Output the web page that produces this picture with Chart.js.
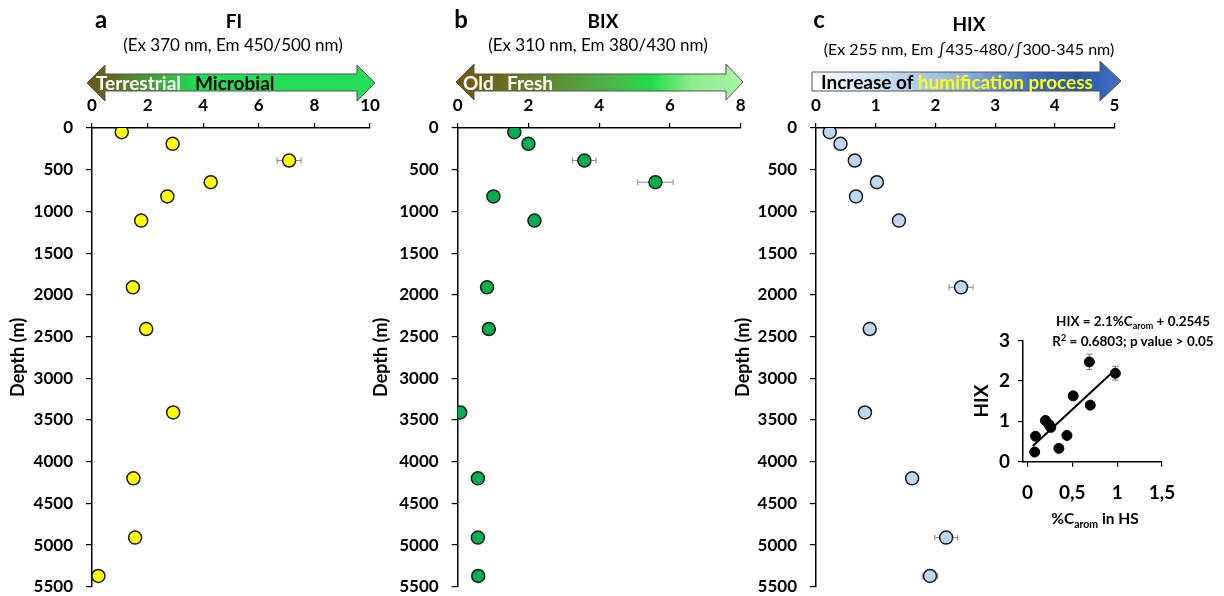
<!DOCTYPE html>
<html>
<head>
<meta charset="utf-8">
<script src="https://cdn.jsdelivr.net/npm/chart.js@4.4.1/dist/chart.umd.min.js"></script>
<style>
  body { margin: 0; background: #fff; width: 1224px; height: 596px; overflow: hidden; font-family: Lato, sans-serif; }
  canvas { position: absolute; top: 0; }
  #overlay { position: absolute; left: 0; top: 0; pointer-events: none; }
</style>
</head>
<body>
<canvas id="chartA" style="left:0px" width="400" height="610"></canvas>
<canvas id="chartB" style="left:370px" width="400" height="610"></canvas>
<canvas id="chartC" style="left:732px" width="492" height="610"></canvas>
<canvas id="chartInset" style="left:970px; top:300px" width="224" height="240"></canvas>

<svg id="overlay" width="1224" height="596" font-family="Lato" font-weight="bold">
  <defs>
    <linearGradient id="gradA" gradientUnits="userSpaceOnUse" x1="87" y1="0" x2="375" y2="0">
      <stop offset="0" stop-color="#6b5416"/>
      <stop offset="0.1" stop-color="#5f6f22"/>
      <stop offset="0.28" stop-color="#36b444"/>
      <stop offset="0.38" stop-color="#22dd55"/>
      <stop offset="1" stop-color="#22dd55"/>
    </linearGradient>
    <linearGradient id="gradB" gradientUnits="userSpaceOnUse" x1="456" y1="0" x2="743" y2="0">
      <stop offset="0" stop-color="#7a5208"/>
      <stop offset="0.12" stop-color="#6a661a"/>
      <stop offset="0.35" stop-color="#5e8e34"/>
      <stop offset="0.55" stop-color="#4ab84a"/>
      <stop offset="0.68" stop-color="#22dd4a"/>
      <stop offset="0.82" stop-color="#8cee8c"/>
      <stop offset="1" stop-color="#a6f5a6"/>
    </linearGradient>
    <linearGradient id="gradC" gradientUnits="userSpaceOnUse" x1="812" y1="0" x2="1121" y2="0">
      <stop offset="0" stop-color="#ffffff"/>
      <stop offset="0.28" stop-color="#bdd7ee"/>
      <stop offset="0.5" stop-color="#8ab0df"/>
      <stop offset="0.72" stop-color="#3d6cc0"/>
      <stop offset="0.86" stop-color="#2656a8"/>
      <stop offset="1" stop-color="#4472c4"/>
    </linearGradient>
  </defs>

  <!-- panel titles -->
  <text x="101" y="28" font-size="24" text-anchor="middle">a</text>
  <text x="234" y="28" font-size="19" text-anchor="middle">FI</text>
  <text x="233" y="51" font-size="17" font-weight="normal" text-anchor="middle">(Ex 370 nm, Em 450/500 nm)</text>

  <text x="461" y="28" font-size="24" text-anchor="middle">b</text>
  <text x="603" y="28" font-size="19" text-anchor="middle">BIX</text>
  <text x="598" y="51" font-size="17" font-weight="normal" text-anchor="middle">(Ex 310 nm, Em 380/430 nm)</text>

  <text x="819" y="28" font-size="24" text-anchor="middle">c</text>
  <text x="969" y="31" font-size="19" text-anchor="middle">HIX</text>
  <text x="969" y="55" font-size="16" font-weight="normal" text-anchor="middle">(Ex 255 nm, Em ∫435-480/∫300-345 nm)</text>

  <!-- arrows -->
  <polygon points="87,83 105,65 105,74 357,74 357,65 375,83 357,101 357,91 105,91 105,101" fill="url(#gradA)" stroke="#555" stroke-width="1"/>
  <text x="96" y="90" font-size="19" fill="#fff">Terrestrial</text>
  <text x="195" y="90" font-size="19" fill="#000">Microbial</text>

  <polygon points="456,82 474,64 474,74 726,74 726,64 743,82 726,100 726,91 474,91 474,100" fill="url(#gradB)" stroke="#555" stroke-width="1"/>
  <text x="463" y="90" font-size="19" fill="#fff">Old</text>
  <text x="507" y="90" font-size="19" fill="#fff">Fresh</text>

  <polygon points="812,72 1100,72 1100,61 1121,81 1100,101 1100,91 812,91" fill="url(#gradC)" stroke="#555" stroke-width="1"/>
  <text x="821" y="89" font-size="19"><tspan fill="#000">Increase of </tspan><tspan fill="#ffff00">humification process</tspan></text>

  <!-- inset annotations -->
  <text x="1133" y="326" font-size="13.5" text-anchor="middle">HIX = 2.1%C<tspan font-size="9" dy="3">arom</tspan><tspan dy="-3"> + 0.2545</tspan></text>
  <text x="1133" y="346" font-size="13.5" text-anchor="middle">R<tspan font-size="9" dy="-5">2</tspan><tspan dy="5"> = 0.6803; p value &gt; 0.05</tspan></text>
  <text x="1095" y="524" font-size="15.5" text-anchor="middle">%C<tspan font-size="10.5" dy="4">arom</tspan><tspan dy="-4"> in HS</tspan></text>
</svg>

<script>
// depth of the samples (m)
const depth = [50, 190, 390, 650, 820, 1110, 1910, 2410, 3410, 4200, 4910, 5370];

// FI
const fiValues = [1.07, 2.9, 7.09, 4.27, 2.71, 1.77, 1.47, 1.95, 2.92, 1.49, 1.55, 0.23];
const fiErrors = [0, 0, 0.43, 0, 0, 0, 0, 0, 0, 0, 0, 0];

// BIX
const bixValues = [1.6, 2.0, 3.58, 5.59, 1.01, 2.17, 0.83, 0.88, 0.07, 0.57, 0.57, 0.58];
const bixErrors = [0, 0, 0.33, 0.5, 0, 0, 0, 0, 0, 0, 0, 0];

// HIX
const hixValues = [0.23, 0.41, 0.65, 1.02, 0.67, 1.39, 2.43, 0.9, 0.82, 1.61, 2.18, 1.91];
const hixErrors = [0, 0, 0, 0, 0, 0, 0.2, 0, 0, 0, 0.19, 0.13];

// inset: HIX vs %C arom in HS
const caromValues = [0.08, 0.09, 0.20, 0.24, 0.26, 0.35, 0.44, 0.51, 0.69, 0.70, 0.98];
const hixInset    = [0.24, 0.63, 1.02, 0.92, 0.85, 0.33, 0.65, 1.63, 2.47, 1.40, 2.19];
const hixInsetErr = [0, 0, 0, 0, 0, 0, 0, 0, 0.19, 0, 0.17];
const trendX = [0.06, 0.99];
const trendY = [0.39, 2.30];

// axes
const depthMax = 5500, depthStep = 500;
const insetXTicks = [0, 0.5, 1, 1.5];
const insetYTicks = [0, 1, 2, 3];

const errorBars = {
    id: 'errorBars',
    beforeDatasetsDraw(chart) {
        const ctx = chart.ctx;
        const xs = chart.scales.x, ys = chart.scales.y;
        chart.data.datasets.forEach(ds => {
            if (!ds.errX && !ds.errY) return;
            ctx.save();
            ctx.strokeStyle = ds.errColor || '#8a8a8a';
            ctx.lineWidth = 1;
            ds.data.forEach((p, j) => {
                const ex = ds.errX ? ds.errX[j] : 0;
                const ey = ds.errY ? ds.errY[j] : 0;
                const px = xs.getPixelForValue(p.x), py = ys.getPixelForValue(p.y);
                ctx.beginPath();
                if (ex) {
                    const x1 = xs.getPixelForValue(p.x - ex), x2 = xs.getPixelForValue(p.x + ex);
                    ctx.moveTo(x1, py); ctx.lineTo(x2, py);
                    ctx.moveTo(x1, py - 3); ctx.lineTo(x1, py + 3);
                    ctx.moveTo(x2, py - 3); ctx.lineTo(x2, py + 3);
                }
                if (ey) {
                    const y1 = ys.getPixelForValue(p.y - ey), y2 = ys.getPixelForValue(p.y + ey);
                    ctx.moveTo(px, y1); ctx.lineTo(px, y2);
                    ctx.moveTo(px - 3, y1); ctx.lineTo(px + 3, y1);
                    ctx.moveTo(px - 3, y2); ctx.lineTo(px + 3, y2);
                }
                ctx.stroke();
            });
            ctx.restore();
        });
    }
};

function depthPanel(id, values, errors, color, xMax, xStep, yWidth, padRight, titlePad) {
    const pts = values.map((v, i) => ({ x: v, y: depth[i] }));
    return new Chart(document.getElementById(id), {
        type: 'scatter',
        data: {
            datasets: [{
                data: pts,
                errX: errors,
                backgroundColor: color,
                borderColor: '#1a1a1a',
                borderWidth: 1.5,
                pointRadius: 6.5,
                pointHoverRadius: 6.5
            }]
        },
        options: {
            responsive: false,
            animation: false,
            events: [],
            // bottom edge comes from the y tick padding (label half height + 13)
            layout: { padding: { top: 0, left: 0, right: padRight, bottom: 0 } },
            plugins: { legend: { display: false }, tooltip: { enabled: false } },
            scales: {
                x: {
                    position: 'top',
                    min: 0, max: xMax,
                    ticks: { stepSize: xStep, color: '#000', padding: 7, font: { size: 17, weight: 'bold' } },
                    grid: { drawOnChartArea: false, drawTicks: true, tickLength: 5, color: '#000', lineWidth: 1.2 },
                    border: { display: true, color: '#000', width: 1.5 },
                    afterFit(scale) { scale.height = 128; }
                },
                y: {
                    reverse: true,
                    min: 0, max: depthMax,
                    ticks: { stepSize: depthStep, color: '#000', padding: 13, font: { size: 17, weight: 'bold' },
                             callback: v => String(v) },
                    grid: { drawOnChartArea: false, drawTicks: true, tickLength: 6, color: '#000', lineWidth: 1.2 },
                    border: { display: true, color: '#000', width: 1.5 },
                    title: { display: true, text: 'Depth (m)', color: '#000', font: { size: 18, weight: 'bold' }, padding: { top: titlePad, bottom: 0 } },
                    afterFit(scale) { scale.width = yWidth; }
                }
            }
        },
        plugins: [errorBars]
    });
}

function insetChart() {
    const pts = caromValues.map((v, i) => ({ x: v, y: hixInset[i] }));
    const trend = trendX.map((v, i) => ({ x: v, y: trendY[i] }));
    return new Chart(document.getElementById('chartInset'), {
        type: 'scatter',
        data: {
            datasets: [{
                data: pts,
                errY: hixInsetErr,
                errColor: '#777',
                backgroundColor: '#000',
                borderColor: '#000',
                pointRadius: 5,
                pointHoverRadius: 5
            }, {
                type: 'line',
                data: trend,
                borderColor: '#000',
                borderWidth: 2,
                pointRadius: 0,
                fill: false
            }]
        },
        options: {
            responsive: false,
            animation: false,
            events: [],
            layout: { padding: { top: 40.5, left: 0, right: 32, bottom: 33.3 } },
            plugins: { legend: { display: false }, tooltip: { enabled: false } },
            scales: {
                x: {
                    min: -0.05, max: 1.5,
                    afterBuildTicks(scale) { scale.ticks = insetXTicks.map(v => ({ value: v })); },
                    ticks: { color: '#000', padding: 15, font: { size: 19, weight: 'bold' },
                             callback: v => String(v).replace('.', ',') },
                    grid: { drawOnChartArea: false, drawTicks: true, tickLength: 5, color: '#000', lineWidth: 1.2 },
                    border: { display: true, color: '#000', width: 1.5 },
                    afterFit(scale) { scale.height = 45; }
                },
                y: {
                    min: 0, max: 3,
                    afterBuildTicks(scale) { scale.ticks = insetYTicks.map(v => ({ value: v })); },
                    ticks: { color: '#000', padding: 8, font: { size: 19, weight: 'bold' } },
                    grid: { drawOnChartArea: false, drawTicks: true, tickLength: 5, color: '#000', lineWidth: 1.2 },
                    border: { display: true, color: '#000', width: 1.5 },
                    title: { display: true, text: 'HIX', color: '#000', font: { size: 19, weight: 'bold' }, padding: { top: 0, bottom: 0 } },
                    afterFit(scale) { scale.width = 53; }
                }
            }
        },
        plugins: [errorBars]
    });
}

Chart.defaults.font.family = 'Lato';

document.fonts.load('bold 16px Lato').then(() => {
    depthPanel('chartA', fiValues, fiErrors, '#ffff00', 10, 2, 92, 30, 7);
    depthPanel('chartB', bixValues, bixErrors, '#00b050', 8, 2, 87.7, 29.3, 0);
    depthPanel('chartC', hixValues, hixErrors, '#bdd7ee', 5, 1, 84, 109.5, 0);
    insetChart();
});
</script>
</body>
</html>
